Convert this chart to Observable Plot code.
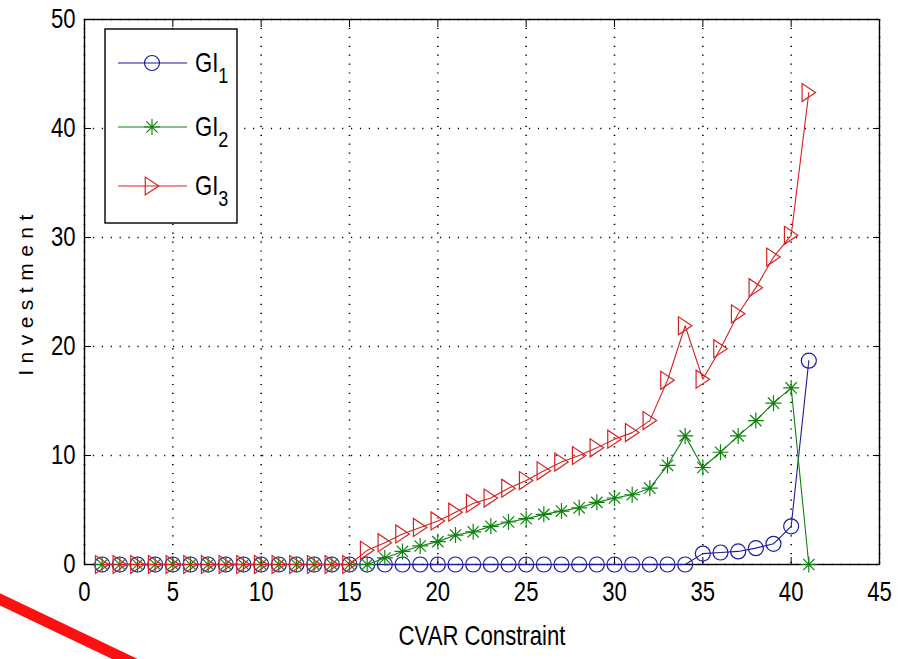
<!DOCTYPE html>
<html><head><meta charset="utf-8">
<script src="https://cdn.jsdelivr.net/npm/d3@7"></script>
<script src="https://cdn.jsdelivr.net/npm/@observablehq/plot@0.6"></script>
<style>
html,body{margin:0;padding:0;background:#fff;}
#wrap{position:relative;width:899px;height:659px;overflow:hidden;background:#fff;}
#chart svg{display:block;}
g[aria-label="y-axis label"] text{font-size:21px;letter-spacing:6.5px;}
g[aria-label="x-axis label"] text{font-size:27px;}
#legend{position:absolute;left:0;top:0;}
#redmark{position:absolute;left:-4px;top:592px;width:160px;height:11px;background:#ff1010;transform-origin:0 50%;transform:rotate(25.5deg);}
</style></head>
<body><div id="wrap"><div id="chart"></div><div id="legend"></div><div id="redmark"></div></div>
<script>
// ---- data ----
const xValues = [1,2,3,4,5,6,7,8,9,10,11,12,13,14,15,16,17,18,19,20,21,22,23,24,25,26,27,28,29,30,31,32,33,34,35,36,37,38,39,40,41];
const gi1 = [0,0,0,0,0,0,0,0,0,0,0,0,0,0,0,0,0,0,0,0,0,0,0,0,0,0,0,0,0,0,0,0,0,0,1.0,1.1,1.2,1.5,1.9,3.5,18.7];
const gi2 = [0,0,0,0,0,0,0,0,0,0,0,0,0,0,0,0,0.6,1.2,1.7,2.1,2.7,3.0,3.5,3.9,4.2,4.6,4.9,5.2,5.7,6.1,6.4,7.0,9.1,11.8,8.9,10.3,11.8,13.2,14.8,16.2,0];
const gi3 = [0,0,0,0,0,0,0,0,0,0,0,0,0,0,0,1.3,2.0,2.8,3.4,4.0,4.8,5.6,6.1,7.0,7.7,8.6,9.4,10.0,10.7,11.5,12.1,13.2,16.9,21.9,17.0,19.8,23.0,25.4,28.2,30.2,43.3];
const seriesNames = ["GI", "GI", "GI"];
const seriesSubs = ["1", "2", "3"];
const xTicks = [0,5,10,15,20,25,30,35,40,45];
const yTicks = [0,10,20,30,40,50];
const xLabel = "CVAR Constraint";
const yLabel = "Investment";

// ---- styles ----
const colors = ["#1c1c9e", "#0f820f", "#d42222"];
const font = '"Liberation Sans",Arial,sans-serif';
const squeeze = 0.82;

const circleSym = {draw(ctx, size){ const r = Math.sqrt(size/Math.PI); ctx.moveTo(r,0); ctx.arc(0,0,r,0,2*Math.PI); }};
const starSym = {draw(ctx, size){ const r = Math.sqrt(size/Math.PI); const d = r*Math.SQRT1_2;
  ctx.moveTo(-r,0); ctx.lineTo(r,0); ctx.moveTo(0,-r); ctx.lineTo(0,r);
  ctx.moveTo(-d,-d); ctx.lineTo(d,d); ctx.moveTo(-d,d); ctx.lineTo(d,-d); }};
const triSym = {draw(ctx, size){ const r = Math.sqrt(size/Math.PI);
  ctx.moveTo(r*0.75,0); ctx.lineTo(-r*0.75,-r); ctx.lineTo(-r*0.75,r); ctx.closePath(); }};
const symbols = [circleSym, starSym, triSym];
const radii = [7.5, 8, 9];

const series = [gi1, gi2, gi3].map(vals => xValues.map((x,i) => ({x, v: vals[i]})));

const seriesMarks = series.flatMap((data, k) => [
  Plot.line(data, {x: "x", y: "v", stroke: colors[k], strokeWidth: 1.1}),
  Plot.dot(data, {x: "x", y: "v", symbol: symbols[k], r: radii[k], stroke: colors[k], fill: "none", strokeWidth: 1.2})
]);

const chart = Plot.plot({
  width: 899, height: 659,
  marginLeft: 84, marginRight: 20, marginTop: 19, marginBottom: 95,
  style: {fontFamily: font, fontSize: "27px", color: "#000", background: "#fff"},
  x: {domain: [0,45]},
  y: {domain: [0,50]},
  marks: [
    Plot.gridX(xTicks, {stroke: "#000", strokeOpacity: 1, strokeWidth: 1.6, strokeDasharray: "1.2,7.7"}),
    Plot.gridY(yTicks, {stroke: "#000", strokeOpacity: 1, strokeWidth: 1.6, strokeDasharray: "1.2,7.7"}),
    Plot.frame({stroke: "#000", strokeWidth: 1.4}),
    Plot.axisX(xTicks, {anchor: "bottom", tickSize: -7, tickPadding: 24, fontSize: 27, label: xLabel, labelAnchor: "center", labelOffset: 80, labelArrow: "none"}),
    Plot.axisX(xTicks, {anchor: "top", tickSize: -7, fill: "none", stroke: "#000", label: null}),
    Plot.axisY(yTicks, {anchor: "left", tickSize: -7, tickPadding: 16, fontSize: 27, label: yLabel, labelAnchor: "center", labelOffset: 66, labelArrow: "none"}),
    Plot.axisY(yTicks, {anchor: "right", tickSize: -7, fill: "none", stroke: "#000", label: null}),
    ...seriesMarks
  ]
});
document.getElementById("chart").appendChild(chart);

function narrowText(el, s) {
  const tr = el.getAttribute("transform") || "";
  let x = parseFloat(el.getAttribute("x"));
  if (!isFinite(x)) x = 0;
  el.setAttribute("transform", `${tr} translate(${x},0) scale(${s},1) translate(${-x},0)`);
}
d3.select(chart).selectAll('g[aria-label="x-axis tick label"] text, g[aria-label="y-axis tick label"] text, g[aria-label="x-axis label"] text')
  .each(function(){ narrowText(this, squeeze); });

// ---- legend ----
const lg = d3.select("#legend").append("svg").attr("width", 260).attr("height", 240);
lg.append("rect").attr("x", 105).attr("y", 29).attr("width", 132).attr("height", 194)
  .attr("fill", "#fff").attr("stroke", "#000").attr("stroke-width", 1.4);
const rowY = [63, 127, 186];
seriesNames.forEach((name, k) => {
  const y = rowY[k];
  lg.append("line").attr("x1", 118).attr("x2", 187).attr("y1", y).attr("y2", y)
    .attr("stroke", colors[k]).attr("stroke-width", 1.1);
  const p = d3.path(); symbols[k].draw(p, radii[k]*radii[k]*Math.PI);
  lg.append("path").attr("d", p.toString()).attr("transform", `translate(152,${y})`)
    .attr("fill", "none").attr("stroke", colors[k]).attr("stroke-width", 1.2);
  const t = lg.append("text").attr("x", 195).attr("y", y + 9).attr("font-family", font).attr("font-size", 27).attr("fill", "#000");
  t.append("tspan").text(name);
  t.append("tspan").attr("dy", 11).attr("font-size", 22).text(seriesSubs[k]);
  narrowText(t.node(), squeeze);
});
</script>
</body></html>
